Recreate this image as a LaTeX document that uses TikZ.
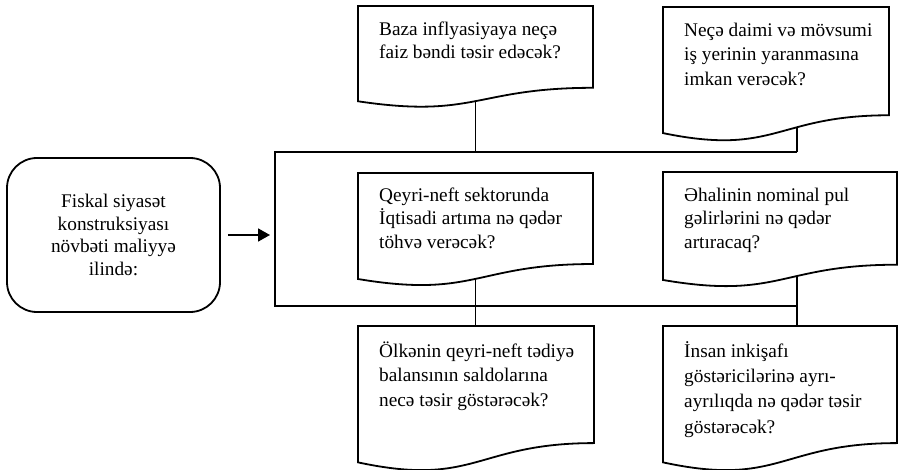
\documentclass[tikz,border=0pt]{standalone}
\usepackage{fontspec}
\setmainfont{Liberation Serif}
\usetikzlibrary{calc,arrows.meta,backgrounds}
\tikzset{
  docframe/.style={rectangle,draw=none,inner sep=0pt,outer sep=0pt},
  docline/.style={draw=black,fill=white,line width=1.8pt,line join=miter},
  doctext/.style={anchor=north west,inner sep=0pt,align=left},
  startbox/.style={draw=black,line width=1.8pt,rounded corners=30pt,fill=white,align=center,inner sep=0pt,font=\fontsize{19.3}{22.5}\selectfont},
  conn/.style={draw=black,line width=1.8pt},
  busline/.style={draw=black,line width=1.8pt},
  arrowline/.style={draw=black,line width=1.8pt,-{Triangle[length=12pt,width=13pt]}}
}
% name, x, y, w, h, baselineskip, first-line offset, text
\newcommand\docshape[8]{%
  \node[docframe,minimum width=#4pt,minimum height=#5pt,anchor=north west] (#1) at (#2,#3) {};
  \draw[docline] (#1.north west) -- (#1.north east) -- ($(#1.north east)!0.802!(#1.south east)$)
    .. controls ($(#1.north)!0.802!(#1.south)$) and ($(#1.north)!1.107!(#1.south)$) ..
    ($(#1.north west)!0.934!(#1.south west)$) -- cycle;
  \node[doctext,font=\fontsize{19.3}{#6}\selectfont] (#1-t) at ($(#1.north west)+(21,#7)$) {\rule{0pt}{15.7pt}#8};
}
\begin{document}
\begin{tikzpicture}[x=1pt,y=-1pt]
\useasboundingbox (0,0) rectangle (901,470);

% frame (bus)
\node[docframe,minimum width=522pt,minimum height=154pt] (frame) at (536,229) {};
\draw[busline] (frame.north east) -- (frame.north west) -- (frame.south west) -- (frame.south east);

% start box
\node[startbox,minimum width=213pt,minimum height=154pt] (start) at (113.5,235)
  {Fiskal siyasət\\konstruksiyası\\növbəti maliyyə\\ilində:};
\draw[arrowline,shorten <=7pt,shorten >=5pt] (start.east) -- (start.east -| frame.west);

% documents
\docshape{tl}{358}{6}{235}{102}{23.5}{13.3}{Baza inflyasiyaya neçə\\faiz bəndi təsir edəcək?}
\docshape{tr}{663}{7}{226}{135}{24.8}{13.3}{Neçə daimi və mövsumi\\iş yerinin yaranmasına\\imkan verəcək?}
\docshape{ml}{358}{173}{235}{113.5}{23.5}{12.3}{Qeyri-neft sektorunda\\İqtisadi artıma nə qədər\\töhvə verəcək?}
\docshape{mr}{663}{172}{234}{115.6}{23.5}{13.3}{Əhalinin nominal pul\\gəlirlərini nə qədər\\artıracaq?}
\docshape{ll}{358}{326}{236}{146}{24.2}{15.8}{Ölkənin qeyri-neft tədiyə\\balansının saldolarına\\necə təsir göstərəcək?}
\docshape{lr}{663}{326}{234}{146}{25.2}{15.3}{İnsan inkişafı\\göstəricilərinə ayrı-\\ayrılıqda nə qədər təsir\\göstərəcək?}

% connectors
\begin{pgfonlayer}{background}
\draw[conn] (tl.center) -- (tl.center |- frame.north);
\draw[conn] (tr.center -| frame.east) -- (frame.north east);
\draw[conn] (ml.center) -- (ml.center |- ll.center);
\draw[conn] (mr.center -| frame.east) -- (lr.center -| frame.east);
\end{pgfonlayer}
\end{tikzpicture}
\end{document}
